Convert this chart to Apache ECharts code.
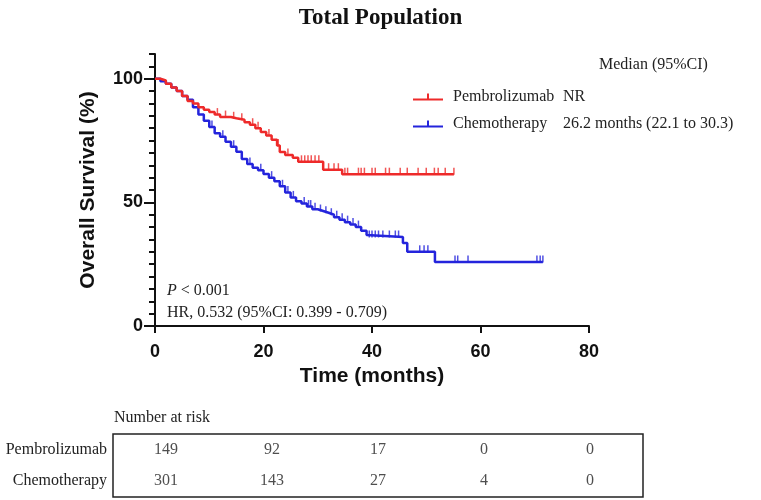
<!DOCTYPE html>
<html>
<head>
<meta charset="utf-8">
<script src="https://cdn.jsdelivr.net/npm/echarts@6/dist/echarts.min.js"></script>
<style>
  html, body { margin: 0; padding: 0; background: #fff; }
  #chart { width: 761px; height: 500px; }
</style>
</head>
<body>
<div id="chart"></div>
<script>
// Kaplan-Meier steps: [months, survival %]
const pembroSteps = [
  [0, 100], [1, 99.3], [2, 98], [3, 96.5], [4, 95], [5, 93], [6, 91], [7, 90],
  [8, 88.5], [9, 87.5], [10, 86.5], [11, 85.5], [12, 84.5], [14, 84], [15, 83.4],
  [16.5, 82.4], [17.5, 81.4], [18.5, 80], [19.5, 78.5], [20.5, 77], [21.5, 75.3],
  [22.5, 73], [23, 70.4], [24, 69.2], [25.4, 68], [26.4, 66.4], [31, 63.2],
  [34.5, 61.4], [55.1, 61.4]
];
const chemoSteps = [
  [0, 100], [1, 99], [2, 98], [3, 96.5], [4, 95], [5, 93], [6, 91.5], [7, 88.5],
  [8, 85.5], [9, 83], [10, 80.5], [11, 78], [12, 76.5], [13, 74.5], [14, 72.5],
  [15, 70.5], [16, 67.5], [17, 65.5], [18, 64], [19, 63], [20, 61.5], [21, 60],
  [22, 58.5], [23, 56.5], [24, 54], [25, 52], [26, 50.5], [27, 49.5], [28, 48.3],
  [29, 47.2], [30, 46.5], [31, 45.8], [32, 45], [33, 44], [34, 43], [35, 42],
  [36, 41], [37, 40], [38, 38.5], [39, 36.8], [39.3, 36], [45.7, 33.6],
  [46.5, 30], [51.6, 25.9], [71.5, 25.9]
];
// censored observations (tick marks)
const pembroCensor = [
  [11.5, 85.5], [13, 84.5], [14.5, 84], [16, 83.4], [18, 81.4], [19, 80], [21, 77],
  [22.7, 73], [24.5, 69.2], [27, 66.4], [27.6, 66.4], [28.2, 66.4], [28.8, 66.4],
  [29.5, 66.4], [30.2, 66.4], [32, 63.2], [33, 63.2], [33.8, 63.2], [35, 61.4],
  [35.5, 61.4], [37.5, 61.4], [38, 61.4], [38.6, 61.4], [40, 61.4], [40.6, 61.4],
  [42.5, 61.4], [43.2, 61.4], [45.2, 61.4], [46.5, 61.4], [48.5, 61.4], [50, 61.4],
  [51.5, 61.4], [52.2, 61.4], [53.5, 61.4], [55.1, 61.4]
];
const chemoCensor = [
  [10.5, 80.5], [12.5, 76.5], [14.5, 72.5], [17.5, 65.5], [19.5, 63], [21.5, 60],
  [23.5, 56.5], [24.5, 54], [25.5, 52], [27.5, 49.5], [28.3, 48.3], [28.7, 48.3],
  [29.5, 47.2], [30.5, 46.5], [31.5, 45.8], [32.5, 45], [33.5, 44], [34.5, 43],
  [35.5, 42], [36.5, 41], [37.5, 40], [39.5, 36], [40, 36], [40.6, 36], [41.2, 36],
  [42, 36], [43.2, 36], [44.3, 36], [44.9, 36], [48.8, 30], [49.6, 30], [50.3, 30],
  [55.3, 25.9], [55.8, 25.9], [57.7, 25.9], [70.4, 25.9], [71, 25.9], [71.5, 25.9]
];

const groups = ["Pembrolizumab", "Chemotherapy"];
const medians = ["NR", "26.2 months (22.1 to 30.3)"];
const riskTimes = ["0", "20", "40", "60", "80"];
const riskPembro = [149, 92, 17, 0, 0];
const riskChemo = [301, 143, 27, 4, 0];
const yMajorTicks = [0, 50, 100];
const yMinorTicks = [0, 5, 10, 15, 20, 25, 30, 35, 40, 45, 50, 55, 60, 65, 70, 75, 80, 85, 90, 95, 100, 105, 110];

const RED = "#ee2a2a";
const BLUE = "#2424dc";
const SERIF = "'Liberation Serif', 'Times New Roman', serif";
const SANS = "'Liberation Sans', Arial, sans-serif";

let riskData = [];
riskPembro.forEach((v, i) => riskData.push([i, 1, v]));
riskChemo.forEach((v, i) => riskData.push([i, 0, v]));

const chart = echarts.init(document.getElementById("chart"));
chart.setOption({
  animation: false,
  title: {
    text: "Total Population",
    left: "center",
    top: 2,
    textStyle: { fontFamily: SERIF, fontSize: 23, fontWeight: "bold", color: "#111" }
  },
  legend: {
    data: groups,
    orient: "vertical",
    left: 408,
    top: 84,
    itemWidth: 30,
    itemHeight: 8,
    itemGap: 11,
    icon: "path://M0,5h30v2h-30z M14,0h2v5h-2z",
    formatter: name => `{n|${name}}{m|${medians[groups.indexOf(name)]}}`,
    textStyle: {
      fontFamily: SERIF, fontSize: 16, color: "#222",
      rich: {
        n: { fontFamily: SERIF, fontSize: 16, color: "#222", width: 110, padding: [0, 0, 0, 5] },
        m: { fontFamily: SERIF, fontSize: 16, color: "#222" }
      }
    }
  },
  grid: [
    { left: 155, right: 172, top: 54, bottom: 174 },
    { left: 113, right: 118, top: 434, height: 63, show: true, borderColor: "#222", borderWidth: 1.5, backgroundColor: "transparent" }
  ],
  xAxis: [
    {
      type: "value", gridIndex: 0, min: 0, max: 80, interval: 20,
      name: "Time (months)", nameLocation: "middle", nameGap: 40,
      nameTextStyle: { fontFamily: SANS, fontSize: 21, fontWeight: "bold", color: "#111" },
      axisLine: { lineStyle: { color: "#111", width: 2 } },
      axisTick: { length: 7, lineStyle: { color: "#111", width: 2 } },
      axisLabel: { fontFamily: SANS, fontSize: 18, fontWeight: "bold", color: "#111", margin: 17 },
      splitLine: { show: false }
    },
    {
      type: "category", gridIndex: 1, data: riskTimes,
      axisLine: { show: false }, axisTick: { show: false }, axisLabel: { show: false }
    }
  ],
  yAxis: [
    {
      type: "value", gridIndex: 0, min: 0, max: 110,
      name: "Overall Survival (%)", nameLocation: "middle", nameGap: 56,
      nameTextStyle: { fontFamily: SANS, fontSize: 21, fontWeight: "bold", color: "#111" },
      axisLine: { show: true, lineStyle: { color: "#111", width: 2 } },
      axisTick: { show: true, length: 11, customValues: yMajorTicks, lineStyle: { color: "#111", width: 2 } },
      axisLabel: { customValues: yMajorTicks, fontFamily: SANS, fontSize: 18, fontWeight: "bold", color: "#111", margin: 12 },
      splitLine: { show: false }
    },
    {
      type: "value", gridIndex: 0, min: 0, max: 110, position: "left",
      axisLine: { show: false },
      axisTick: { show: true, length: 6, customValues: yMinorTicks, lineStyle: { color: "#111", width: 2 } },
      axisLabel: { show: false },
      splitLine: { show: false }
    },
    {
      type: "category", gridIndex: 1, data: ["Chemotherapy", "Pembrolizumab"],
      axisLine: { show: false }, axisTick: { show: false },
      axisLabel: { fontFamily: SERIF, fontSize: 16, color: "#222", margin: 6 }
    }
  ],
  graphic: [
    { type: "text", left: 599, top: 57, style: { text: "Median (95%CI)", font: "16px " + SERIF, fill: "#222" } },
    {
      type: "text", left: 167, top: 283,
      style: {
        text: "{i|P} < 0.001", font: "16px " + SERIF, fill: "#222",
        rich: { i: { fontStyle: "italic", fontFamily: SERIF, fontSize: 16, fill: "#222" } }
      }
    },
    { type: "text", left: 167, top: 305, style: { text: "HR, 0.532 (95%CI: 0.399 - 0.709)", font: "16px " + SERIF, fill: "#222" } },
    { type: "text", left: 114, top: 410, style: { text: "Number at risk", font: "16px " + SERIF, fill: "#222" } }
  ],
  series: [
    {
      name: groups[0], type: "line", step: "end", data: pembroSteps,
      xAxisIndex: 0, yAxisIndex: 0, showSymbol: false, color: RED,
      lineStyle: { color: RED, width: 2.5 }, z: 3
    },
    {
      name: groups[1], type: "line", step: "end", data: chemoSteps,
      xAxisIndex: 0, yAxisIndex: 0, showSymbol: false, color: BLUE,
      lineStyle: { color: BLUE, width: 2.5 }, z: 2
    },
    {
      name: "pembroCensor", type: "scatter", data: pembroCensor,
      xAxisIndex: 0, yAxisIndex: 0, symbol: "rect", symbolSize: [1.5, 7], symbolOffset: [0, -3],
      itemStyle: { color: RED }, z: 3
    },
    {
      name: "chemoCensor", type: "scatter", data: chemoCensor,
      xAxisIndex: 0, yAxisIndex: 0, symbol: "rect", symbolSize: [1.5, 7], symbolOffset: [0, -3],
      itemStyle: { color: BLUE }, z: 2
    },
    {
      name: "risk", type: "scatter", data: riskData,
      xAxisIndex: 1, yAxisIndex: 2, symbolSize: 0,
      label: {
        show: true, position: "inside", formatter: p => p.value[2],
        fontFamily: SERIF, fontSize: 16, color: "#222"
      }
    }
  ]
});
</script>
</body>
</html>
